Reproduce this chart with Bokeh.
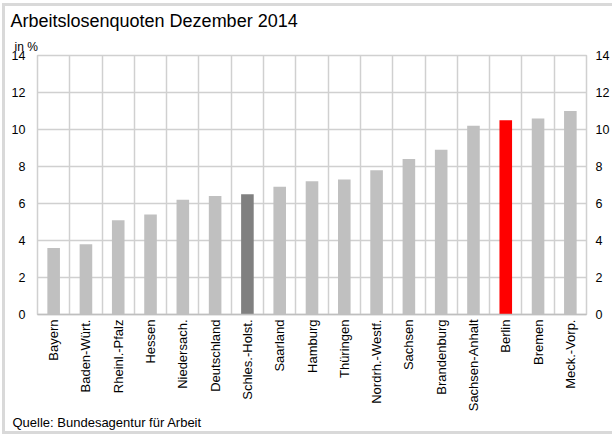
import math
from bokeh.plotting import figure
from bokeh.models import FixedTicker, LinearAxis, Title, ColumnDataSource, Range1d
from bokeh.embed import file_html
from bokeh.resources import INLINE

# ---- data ----
regions = ["Bayern", "Baden-Würt.", "Rheinl.-Pfalz", "Hessen", "Niedersach.",
           "Deutschland", "Schles.-Holst.", "Saarland", "Hamburg", "Thüringen",
           "Nordrh.-Westf.", "Sachsen", "Brandenburg", "Sachsen-Anhalt",
           "Berlin", "Bremen", "Meck.-Vorp."]
rates = [3.6, 3.8, 5.1, 5.4, 6.2, 6.4, 6.5, 6.9, 7.2, 7.3, 7.8, 8.4, 8.9,
         10.2, 10.5, 10.6, 11.0]
bar_colors = ["#C0C0C0"] * len(regions)
bar_colors[regions.index("Schles.-Holst.")] = "#808080"
bar_colors[regions.index("Berlin")] = "#FF0000"
y_ticks = [0, 2, 4, 6, 8, 10, 12, 14]
title_text = "Arbeitslosenquoten  Dezember 2014"
unit_text = "in %"
source_text = "Quelle: Bundesagentur für Arbeit"

FONT = "Liberation Sans"
GRID = "#D0D0D0"
W, H = 610, 431
ML, MR, MT, MB = 35, 23, 52, 120

n = len(regions)
centers = [i + 0.5 for i in range(n)]
src = ColumnDataSource(dict(x=centers, top=rates, color=bar_colors))

p = figure(width=W, height=H, output_backend="svg", toolbar_location=None,
           x_range=Range1d(0, n), y_range=Range1d(0, 14),
           min_border_left=ML, min_border_right=MR, min_border_top=MT,
           min_border_bottom=MB)
p.border_fill_color = None
p.background_fill_color = "white"
p.styles = {"background-color": "white", "margin-left": "2px", "margin-top": "3px",
            "box-shadow": "inset 3px 3px 0 #D9D9D9, inset 0 -3px 0 #D9D9D9"}

p.vbar(x="x", top="top", width=0.39, color="color", source=src, line_color=None)

# grids
p.xgrid.ticker = FixedTicker(ticks=list(range(n + 1)))
p.ygrid.ticker = FixedTicker(ticks=y_ticks)
for g in (p.xgrid, p.ygrid):
    g.grid_line_color = GRID
    g.grid_line_width = 1.5
p.outline_line_color = GRID
p.outline_line_width = 1.5

# x axis
xa = p.xaxis[0]
xa.ticker = FixedTicker(ticks=centers)
xa.major_label_overrides = {c: r for c, r in zip(centers, regions)}
xa.major_label_orientation = math.pi / 2
xa.major_label_text_font = FONT
xa.major_label_text_font_size = "13px"
xa.major_label_text_color = "#000000"
xa.major_tick_out = 0
xa.major_tick_in = 0
xa.minor_tick_out = 0
xa.minor_tick_in = 0
xa.major_tick_line_color = None
xa.minor_tick_line_color = None
xa.axis_line_color = "#BFBFBF"
xa.axis_line_width = 1.5
xa.major_label_standoff = 5

# y axes
ya = p.yaxis[0]
ra = LinearAxis()
p.add_layout(ra, "right")
for a in (ya, ra):
    a.ticker = FixedTicker(ticks=y_ticks)
    a.major_label_text_font = FONT
    a.major_label_text_font_size = "12.5px"
    a.major_label_text_color = "#000000"
    a.major_tick_out = 0
    a.major_tick_in = 0
    a.minor_tick_out = 0
    a.minor_tick_in = 0
    a.major_tick_line_color = None
    a.minor_tick_line_color = None
    a.axis_line_color = None
ya.major_label_standoff = 12
ra.major_label_standoff = 9

# texts: main title on top, unit line next to the plot, source below
p.title.text = title_text
p.title.text_font = FONT
p.title.text_font_size = "18px"
p.title.text_font_style = "normal"
p.title.text_color = "#000000"
p.title.align = "left"
p.title.offset = 10 - 37
p.title.standoff = 9

p.add_layout(Title(text=unit_text, text_font=FONT, text_font_size="12px",
                   text_font_style="normal", text_color="#000000",
                   align="left", offset=14 - 37, standoff=4), "above")
p.add_layout(Title(text=source_text, text_font=FONT, text_font_size="13px",
                   text_font_style="normal", text_color="#000000",
                   align="left", offset=12 - 37, standoff=-3), "below")

open("out.html", "w").write(file_html(p, INLINE))
